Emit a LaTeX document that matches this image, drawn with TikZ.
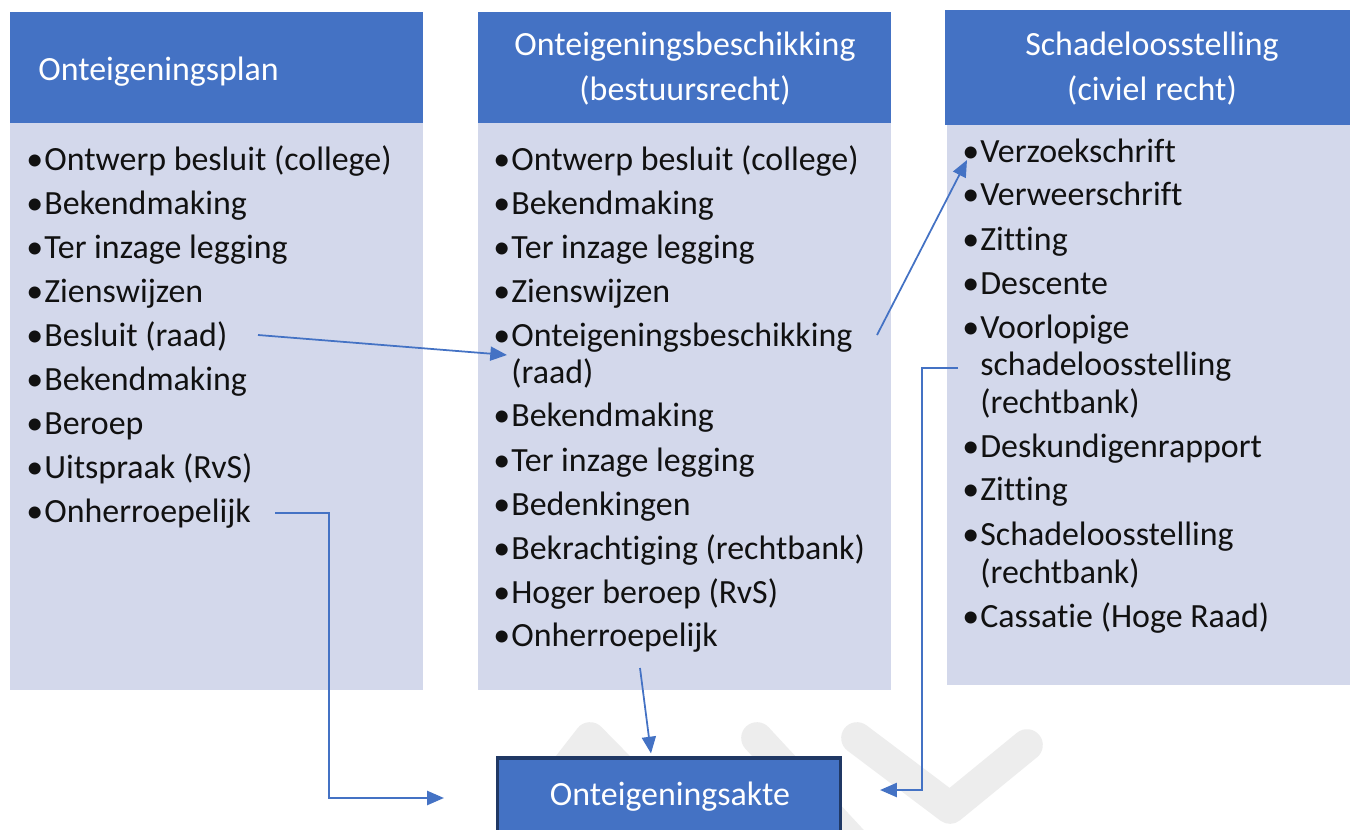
\documentclass[tikz,border=0pt]{standalone}
\usepackage{fontspec}
\setmainfont{Carlito}[Ligatures={NoCommon}]
\usetikzlibrary{arrows.meta,calc}
\definecolor{hdrblue}{HTML}{4472C4}
\definecolor{bodyfill}{HTML}{D3D8EB}
\definecolor{navy}{HTML}{203864}
\definecolor{wmgray}{HTML}{EDEDED}
\definecolor{txt}{HTML}{111111}
\newcommand{\bul}{\makebox[0pt][r]{•\hspace{0.6pt}}}
\tikzset{
  item/.style={anchor=base west, inner sep=0pt, font=\fontsize{19.3}{24}\selectfont, text=txt},
  hdr/.style={inner sep=0pt, font=\fontsize{19.3}{24}\selectfont, text=white},
  conn/.style={draw=hdrblue, line width=1pt, -{Triangle[length=9.5pt,width=8pt]}},
  wm/.style={draw=wmgray, line width=18pt, line cap=round, line join=round},
  aktebox/.style={draw=navy, fill=hdrblue, line width=1.8pt, minimum width=343*0.02cm, minimum height=82*0.02cm, inner sep=0pt}
}
\begin{document}
\begin{tikzpicture}[x=0.02cm,y=-0.02cm]
\useasboundingbox (0,0) rectangle (1350,829);
\clip (0,0) rectangle (1350,829);
\fill[white] (0,0) rectangle (1350,829);
% watermark
\draw[wm] (495,860) -- (590,738) -- (710,860);
\draw[wm] (757,738) -- (870,860);
\draw[wm] (857,738) -- (950,808) -- (1027,745);
% column backgrounds
\fill[bodyfill] (10,123) rectangle (423,690);
\fill[hdrblue] (10,12) rectangle (423,123);
\fill[bodyfill] (478,123) rectangle (891,690);
\fill[hdrblue] (478,12) rectangle (891,123);
\fill[bodyfill] (947,125) rectangle (1350,685);
\fill[hdrblue] (945,10) rectangle (1350,125);
% headers
\node[hdr, anchor=base west] (h1) at (38,80) {Onteigeningsplan};
\node[hdr, anchor=base] (h2a) at (685,55) {Onteigeningsbeschikking};
\node[hdr, anchor=base] (h2b) at (685,100) {(bestuursrecht)};
\node[hdr, anchor=base] (h3a) at (1152,55) {Schadeloosstelling};
\node[hdr, anchor=base] (h3b) at (1152,100) {(civiel recht)};
% column 1
\node[item] (p1) at (44,170) {\bul Ontwerp besluit (college)};
\node[item] (p2) at (44,214) {\bul Bekendmaking};
\node[item] (p3) at (44,258) {\bul Ter inzage legging};
\node[item] (p4) at (44,302) {\bul Zienswijzen};
\node[item] (p5) at (44,346) {\bul Besluit (raad)};
\node[item] (p6) at (44,390) {\bul Bekendmaking};
\node[item] (p7) at (44,434) {\bul Beroep};
\node[item] (p8) at (44,478) {\bul Uitspraak (RvS)};
\node[item] (p9) at (44,522) {\bul Onherroepelijk};
% column 2
\node[item] (q1) at (511,170) {\bul Ontwerp besluit (college)};
\node[item] (q2) at (511,214) {\bul Bekendmaking};
\node[item] (q3) at (511,258) {\bul Ter inzage legging};
\node[item] (q4) at (511,302) {\bul Zienswijzen};
\node[item] (q5) at (511,346) {\bul Onteigeningsbeschikking};
\node[item] (q5b) at (511,383) {(raad)};
\node[item] (q6) at (511,426) {\bul Bekendmaking};
\node[item] (q7) at (511,471) {\bul Ter inzage legging};
\node[item] (q8) at (511,515) {\bul Bedenkingen};
\node[item] (q9) at (511,559) {\bul Bekrachtiging (rechtbank)};
\node[item] (q10) at (511,603) {\bul Hoger beroep (RvS)};
\node[item] (q11) at (511,646) {\bul Onherroepelijk};
% column 3
\node[item] (r1) at (980,162) {\bul Verzoekschrift};
\node[item] (r2) at (980,205) {\bul Verweerschrift};
\node[item] (r3) at (980,250) {\bul Zitting};
\node[item] (r4) at (980,294) {\bul Descente};
\node[item] (r5) at (980,338) {\bul Voorlopige};
\node[item] (r5b) at (980,375) {schadeloosstelling};
\node[item] (r5c) at (980,413) {(rechtbank)};
\node[item] (r6) at (980,457) {\bul Deskundigenrapport};
\node[item] (r7) at (980,500) {\bul Zitting};
\node[item] (r8) at (980,545) {\bul Schadeloosstelling};
\node[item] (r8b) at (980,583) {(rechtbank)};
\node[item] (r9) at (980,627) {\bul Cassatie (Hoge Raad)};
% bottom box
\node[aktebox] (akte) at (669,799) {};
\node[hdr, anchor=base] (aktetxt) at (670,805) {Onteigeningsakte};
% connectors
\draw[conn] ($(p5.base west)+(214,-11)$) -- ($(q5.base west)+(-4,9)$);
\draw[conn] ($(q5.base west)+(366,-11)$) -- ($(r1.base west)+(-13,-2)$);
\draw[conn] ($(p9.base west)+(231,-9)$) -- ++(54,0) |- ($(akte.west)+(-52,-1)$);
\draw[conn] ($(q11.base west)+(129,22)$) -- ($(akte.north)+(-18,-3)$);
\draw[conn] ($(r5b.base west)+(-22,-7)$) -- ++(-36,0) |- ($(akte.east)+(38,-9)$);
\end{tikzpicture}
\end{document}
